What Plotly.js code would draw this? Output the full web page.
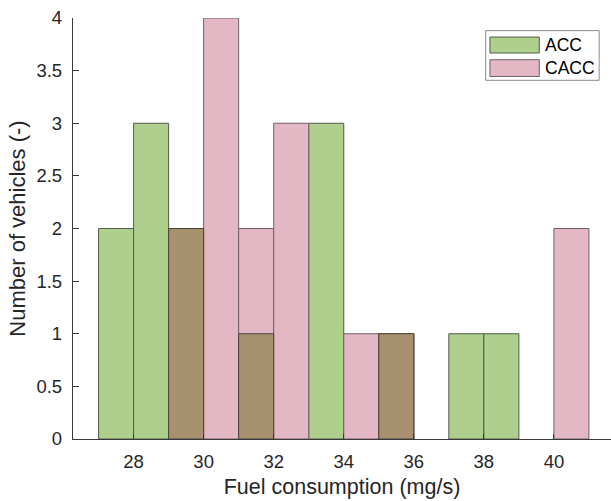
<!DOCTYPE html>
<html>
<head>
<meta charset="utf-8">
<script src="https://cdn.plot.ly/plotly-3.0.1.min.js"></script>
<style>
  html, body { margin: 0; padding: 0; background: #ffffff; }
  #chart { width: 611px; height: 501px; }
</style>
</head>
<body>
<div id="chart"></div>
<script>
// Histogram bins of fuel consumption (mg/s), width 1, left edges 27..40
const binStarts = [27, 28, 29, 30, 31, 32, 33, 34, 35, 36, 37, 38, 39, 40];
const accCounts  = [2, 3, 2, 0, 1, 0, 3, 0, 1, 0, 1, 1, 0, 0];
const caccCounts = [0, 0, 2, 4, 2, 3, 0, 1, 1, 0, 0, 0, 0, 2];
const seriesNames = ['ACC', 'CACC'];
const xTicks = [28, 30, 32, 34, 36, 38, 40];
const yTicks = [0, 0.5, 1, 1.5, 2, 2.5, 3, 3.5, 4];

const binWidth = 1;
const centers = binStarts.map(s => s + binWidth / 2);
// region where both histograms overlap
const overlapCounts = accCounts.map((a, i) => Math.min(a, caccCounts[i]));
// empty bins draw nothing (no outline along the baseline)
const noEmpty = arr => arr.map(v => (v === 0 ? null : v));

const GREEN = '#aed08c', PINK = '#e3b8c4', BROWN = '#a8916f';
const FONT = 'Liberation Sans, Arial, Helvetica, sans-serif';
const INK = '#262626';

function barTrace(y, fill, edge, name) {
  return {
    type: 'bar', x: centers, y: noEmpty(y), width: binWidth, name: name,
    marker: { color: fill, line: { color: edge, width: 1 } },
    showlegend: false, hoverinfo: 'x+y'
  };
}

const traces = [
  barTrace(accCounts, GREEN, '#525a4b', seriesNames[0]),
  barTrace(caccCounts, PINK, '#6f5f68', seriesNames[1]),
  barTrace(overlapCounts, BROWN, '#4a443c', 'overlap')
];

// boxed legend with wide swatches
const legendShapes = [
  { type: 'rect', xref: 'paper', yref: 'paper', x0: 0.767, x1: 0.978, y0: 0.852, y1: 0.970,
    line: { color: '#8a8a8a', width: 1 }, fillcolor: '#ffffff', layer: 'above' },
  { type: 'rect', xref: 'paper', yref: 'paper', x0: 0.775, x1: 0.8667, y0: 0.9168, y1: 0.9548,
    line: { color: '#525a4b', width: 1 }, fillcolor: GREEN, layer: 'above' },
  { type: 'rect', xref: 'paper', yref: 'paper', x0: 0.775, x1: 0.8667, y0: 0.8612, y1: 0.9009,
    line: { color: '#6f5f68', width: 1 }, fillcolor: PINK, layer: 'above' }
];
const legendLabels = [
  { xref: 'paper', yref: 'paper', x: 0.874, y: 0.9365, text: seriesNames[0],
    showarrow: false, xanchor: 'left', yanchor: 'middle', font: { family: FONT, size: 17.5, color: '#000' } },
  { xref: 'paper', yref: 'paper', x: 0.874, y: 0.8819, text: seriesNames[1],
    showarrow: false, xanchor: 'left', yanchor: 'middle', font: { family: FONT, size: 17.5, color: '#000' } }
];

const layout = {
  width: 611, height: 501,
  margin: { l: 73, r: 0, t: 18, b: 62, pad: 0 },
  paper_bgcolor: '#ffffff', plot_bgcolor: '#ffffff',
  barmode: 'overlay', bargap: 0,
  font: { family: FONT, color: INK },
  xaxis: {
    range: [26.27, 41.63], tickvals: xTicks, ticktext: xTicks.map(String),
    showgrid: false, zeroline: false, showline: true, linecolor: '#3a3a3a', linewidth: 1,
    ticks: 'inside', ticklen: 5, tickcolor: '#3a3a3a', ticklabelstandoff: 6,
    tickfont: { family: FONT, size: 18.5, color: INK },
    title: { text: 'Fuel consumption (mg/s)', font: { family: FONT, size: 21.5, color: INK }, standoff: 7 }
  },
  yaxis: {
    range: [0, 4], tickvals: yTicks, ticktext: yTicks.map(v => String(v) + '\u2004'),
    showgrid: false, zeroline: false, showline: true, linecolor: '#3a3a3a', linewidth: 1,
    ticks: 'inside', ticklen: 6, tickcolor: '#3a3a3a',
    tickfont: { family: FONT, size: 18.5, color: INK },
    title: { text: 'Number of vehicles (-)', font: { family: FONT, size: 22, color: INK }, standoff: 4 }
  },
  shapes: legendShapes,
  annotations: legendLabels
};

Plotly.newPlot('chart', traces, layout, { displayModeBar: false, staticPlot: true });
</script>
</body>
</html>
